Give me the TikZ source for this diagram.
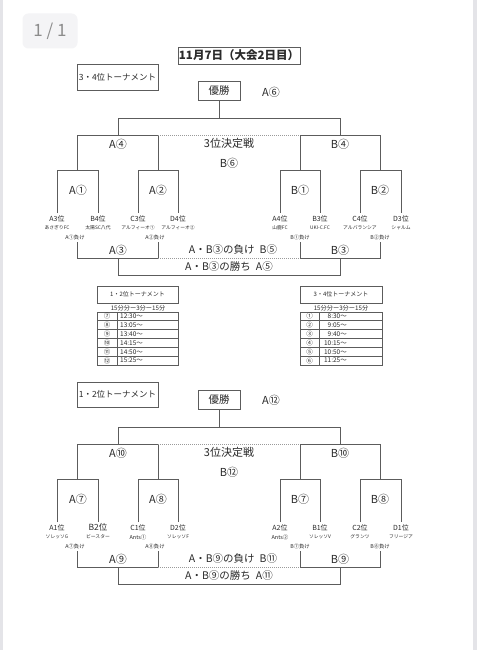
\documentclass[tikz,border=0pt]{standalone}
\usepackage{fontspec}
\setmainfont{Noto Sans CJK JP}
\usepackage{tikz}
\usepackage{xcolor}

\definecolor{linegray}{HTML}{5C5C5C}
\definecolor{dotgray}{HTML}{9A9A9A}
\definecolor{txt}{HTML}{2A2A2A}
\definecolor{edgegray}{HTML}{E4E4E8}
\definecolor{badge}{HTML}{F4F4F6}
\definecolor{badgetext}{HTML}{8C8C8C}

\begin{document}
\begin{tikzpicture}[x=1pt,y=-1pt,
	line/.style={draw=linegray,line width=0.9pt},
	dotline/.style={draw=dotgray,line width=0.8pt,dash pattern=on 1pt off 1pt},
	box/.style={draw=linegray,line width=0.9pt,inner sep=0pt,text=txt},
	big/.style={text=txt,inner sep=0pt,font=\fontsize{11}{11}\selectfont},
	rank/.style={text=txt,inner sep=0pt,font=\fontsize{7}{7}\selectfont},
	club/.style={text=txt,inner sep=0pt,font=\fontsize{4.8}{4.8}\selectfont},
	lose/.style={text=txt,inner sep=0pt,font=\fontsize{5.3}{5.3}\selectfont},
	small/.style={text=txt,inner sep=0pt,font=\fontsize{6.5}{6.5}\selectfont}]

		% page
		\fill[white] (0,0) rectangle (477,650);
		\useasboundingbox (0,0) rectangle (477,650);
		\fill[edgegray] (0,0) rectangle (3,650);
		\fill[edgegray] (473,0) rectangle (477,650);
		\node[fill=badge,rounded corners=6pt,minimum width=55pt,minimum height=35pt,inner sep=0pt,text=badgetext,font=\fontsize{17}{17}\selectfont] (page) at (50,31) {1 / 1};

		\node[box,minimum width=122pt,minimum height=17pt,font=\bfseries\fontsize{11.5}{11.5}\selectfont] (title) at (239,55.5) {11月7日（大会2日目）};

		% bracket lines (same for both)
		\foreach \dy/\k in {0/1,309/2}{
			\begin{scope}[shift={(0,\dy)}]
				\coordinate (f\k) at (219,118);
				\draw[line] (118,135) -- (118,118) -- (340,118) -- (340,135);
				\draw[line] (77,170) -- (77,135) -- (158,135) -- (158,170);
				\draw[line] (300,170) -- (300,135) -- (380,135) -- (380,170);
				\draw[dotline] (158,135) -- (300,135);
				\draw[line] (57,213) -- (57,170) -- (98,170) -- (98,213);
				\draw[line] (138,213) -- (138,170) -- (178,170) -- (178,213);
				\draw[line] (280,213) -- (280,170) -- (320,170) -- (320,213);
				\draw[line] (360,213) -- (360,170) -- (401,170) -- (401,213);
				\draw[line] (77,242) -- (77,258) -- (158,258) -- (158,242);
				\draw[line] (300,242) -- (300,258) -- (380,258) -- (380,242);
				\draw[dotline] (158,258) -- (300,258);
				\draw[line] (118,258) -- (118,275) -- (340,275) -- (340,258);
			\end{scope}
		}

		% 3-4 tournament
		\node[box,minimum width=81pt,minimum height=26pt,font=\fontsize{8.5}{8.5}\selectfont] (tour34) at (117.5,77) {3・4位トーナメント};
		\node[box,minimum width=42pt,minimum height=19pt,font=\fontsize{10.5}{10.5}\selectfont] (win1) at (219,90.5) {優勝};
		\node[big] (a6) at (271,92) {A⑥};
		\draw[line] (win1) -- (f1);
		\node[big] (a4) at (118,144) {A④};
		\node[big] (b4) at (340,144) {B④};
		\node[big] (third1) at (229,143) {3位決定戦};
		\node[big] (b6) at (229,163) {B⑥};
		\node[big] (a1) at (78,190) {A①};
		\node[big] (a2) at (158,190) {A②};
		\node[big] (b1) at (300,190) {B①};
		\node[big] (b2) at (380,190) {B②};
		\node[rank] (r1) at (57,219) {A3位};  \node[club] (c1) at (57,228) {あさぎりFC};
		\node[rank] (r2) at (98,219) {B4位};  \node[club] (c2) at (98,228) {太陽SC八代};
		\node[rank] (r3) at (138,219) {C3位}; \node[club] (c3) at (138,228) {アルフィーオ①};
		\node[rank] (r4) at (178,219) {D4位}; \node[club] (c4) at (178,228) {アルフィーオ②};
		\node[rank] (r5) at (280,219) {A4位}; \node[club] (c5) at (280,228) {山鹿FC};
		\node[rank] (r6) at (320,219) {B3位}; \node[club] (c6) at (320,228) {UKI-C.FC};
		\node[rank] (r7) at (360,219) {C4位}; \node[club] (c7) at (360,228) {アルバランシア};
		\node[rank] (r8) at (401,219) {D3位}; \node[club] (c8) at (401,228) {シャルム};
		\node[lose] (l1) at (75,237) {A①負け};
		\node[lose] (l2) at (155,237) {A②負け};
		\node[lose] (l3) at (300,237) {B①負け};
		\node[lose] (l4) at (380,237) {B②負け};
		\node[big] (a3) at (118,250) {A③};
		\node[big] (b3) at (340,250) {B③};
		\node[big,font=\fontsize{10.5}{10.5}\selectfont] (lose3) at (233,250) {A・B③の負け\hspace{5pt}B⑤};
		\node[big,font=\fontsize{10.5}{10.5}\selectfont] (win3) at (229,266.5) {A・B③の勝ち\hspace{5pt}A⑤};

		% time tables
		\node[box,minimum width=81pt,minimum height=17pt,font=\fontsize{6}{6}\selectfont] (t12) at (137.5,294.5) {1・2位トーナメント};
		\node[small,font=\fontsize{6.2}{6.2}\selectfont] (m12) at (138,308) {15分分ー3分ー15分};
		\draw[line,line width=0.8pt] (97,312) rectangle (178,365);
		\draw[line,line width=0.8pt] (117,312) -- (117,365);
		\foreach \n/\t [count=\i] in {⑦/12:30～,⑧/13:05～,⑨/13:40～,⑩/14:15～,⑪/14:50～,⑫/15:25～}{
			\node[small] (ln\i) at (107,{312+(\i-0.5)*8.83}) {\n};
			\node[small,anchor=west] (lt\i) at (120,{312+(\i-0.5)*8.83}) {\t};
		}
		\foreach \i in {1,...,5}
			\draw[line,line width=0.8pt] (97,{312+\i*8.83}) -- (178,{312+\i*8.83});

		\node[box,minimum width=82pt,minimum height=17pt,font=\fontsize{6}{6}\selectfont] (t34) at (341,294.5) {3・4位トーナメント};
		\node[small,font=\fontsize{6.2}{6.2}\selectfont] (m34) at (341,308) {15分分ー3分ー15分};
		\draw[line,line width=0.8pt] (300,312) rectangle (382,365);
		\draw[line,line width=0.8pt] (319,312) -- (319,365);
		\foreach \n/\t [count=\i] in {①/8:30～,②/9:05～,③/9:40～,④/10:15～,⑤/10:50～,⑥/11:25～}{
			\node[small] (rn\i) at (309.5,{312+(\i-0.5)*8.83}) {\n};
			\node[small,anchor=east] (rt\i) at (347,{312+(\i-0.5)*8.83}) {\t};
		}
		\foreach \i in {1,...,5}
			\draw[line,line width=0.8pt] (300,{312+\i*8.83}) -- (382,{312+\i*8.83});

		% 1-2 tournament
		\node[box,minimum width=81pt,minimum height=25pt,font=\fontsize{8.5}{8.5}\selectfont] (tour12) at (117.5,394.5) {1・2位トーナメント};
		\node[box,minimum width=42pt,minimum height=19pt,font=\fontsize{10.5}{10.5}\selectfont] (win2) at (219,400) {優勝};
		\node[big] (a12) at (271,400) {A⑫};
		\draw[line] (win2) -- (f2);
		\node[big] (a10) at (118,453) {A⑩};
		\node[big] (b10) at (340,453) {B⑩};
		\node[big] (third2) at (229,452) {3位決定戦};
		\node[big] (b12) at (229,472) {B⑫};
		\node[big] (a7) at (78,499) {A⑦};
		\node[big] (a8) at (158,499) {A⑧};
		\node[big] (b7) at (300,499) {B⑦};
		\node[big] (b8) at (380,499) {B⑧};
		\node[rank] (s1) at (57,528) {A1位};  \node[club] (d1) at (57,537) {ソレッソG};
		\node[rank,font=\fontsize{8.5}{8.5}\selectfont] (s2) at (98,527.5) {B2位}; \node[club] (d2) at (98,537) {ビースター};
		\node[rank] (s3) at (138,528) {C1位}; \node[club,font=\fontsize{5.5}{5.5}\selectfont] (d3) at (138,537) {Ants①};
		\node[rank] (s4) at (178,528) {D2位}; \node[club] (d4) at (178,537) {ソレッソF};
		\node[rank] (s5) at (280,528) {A2位}; \node[club,font=\fontsize{5.5}{5.5}\selectfont] (d5) at (280,537) {Ants②};
		\node[rank] (s6) at (320,528) {B1位}; \node[club] (d6) at (320,537) {ソレッソV};
		\node[rank] (s7) at (360,528) {C2位}; \node[club] (d7) at (360,537) {グランツ};
		\node[rank] (s8) at (401,528) {D1位}; \node[club] (d8) at (401,537) {フリージア};
		\node[lose] (k1) at (75,546) {A⑦負け};
		\node[lose] (k2) at (155,546) {A⑧負け};
		\node[lose] (k3) at (300,546) {B⑦負け};
		\node[lose] (k4) at (380,546) {B⑧負け};
		\node[big] (a9) at (118,559) {A⑨};
		\node[big] (b9) at (340,559) {B⑨};
		\node[big,font=\fontsize{10.5}{10.5}\selectfont] (lose9) at (233,559) {A・B⑨の負け\hspace{5pt}B⑪};
		\node[big,font=\fontsize{10.5}{10.5}\selectfont] (win9) at (229,575.5) {A・B⑨の勝ち\hspace{5pt}A⑪};
	\end{tikzpicture}
\end{document}
